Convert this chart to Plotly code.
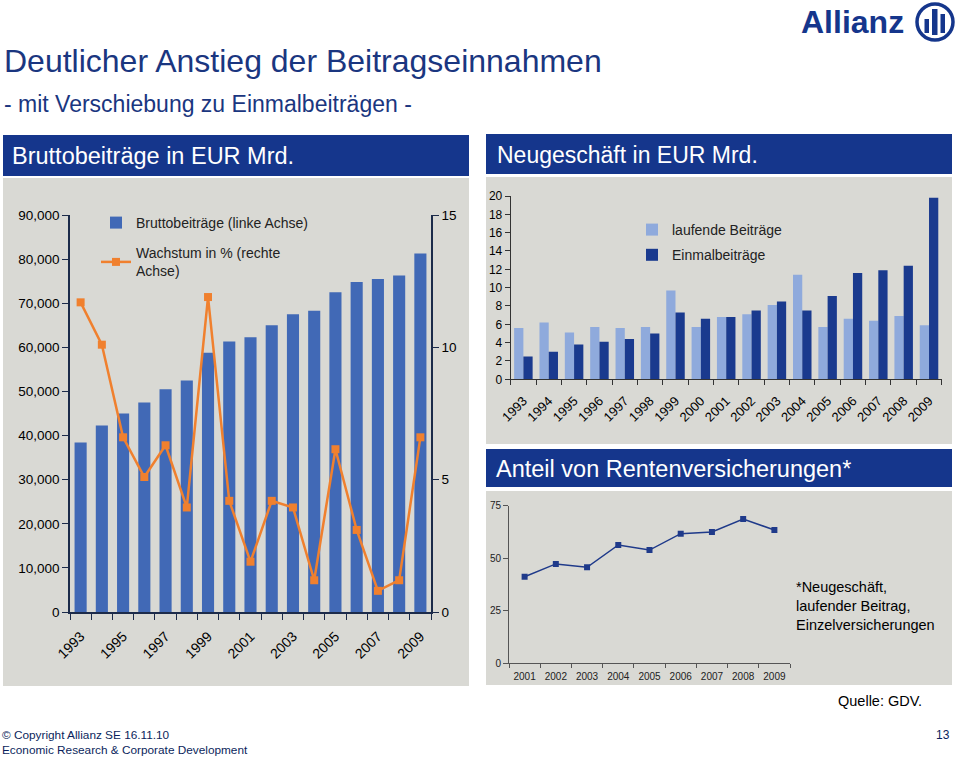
import plotly.graph_objects as go

W, H = 960, 757

# ---------------- data ----------------
years = list(range(1993, 2010))
brutto = [38400, 42300, 45000, 47500, 50500, 52500, 58800, 61300, 62300,
          65000, 67500, 68300, 72500, 74800, 75500, 76300, 81300]
wachstum = [11.7, 10.1, 6.6, 5.1, 6.3, 3.95, 11.9, 4.2, 1.9,
            4.2, 3.95, 1.2, 6.15, 3.1, 0.8, 1.2, 6.6]
laufend = [5.6, 6.2, 5.1, 5.7, 5.6, 5.7, 9.7, 5.7, 6.8,
           7.1, 8.1, 11.4, 5.7, 6.6, 6.4, 6.9, 5.9]
einmal = [2.5, 3.0, 3.8, 4.1, 4.4, 5.0, 7.3, 6.6, 6.8,
          7.5, 8.5, 7.5, 9.1, 11.6, 11.9, 12.4, 19.8]
rv_years = list(range(2001, 2010))
rv_anteil = [41.2, 47.3, 45.7, 56.3, 53.9, 61.7, 62.5, 68.7, 63.4]
left_tick_years = list(range(1993, 2010, 2))

NAVY = "#15368C"
PANEL = "#D9D9D4"
FONT = "Liberation Sans, Arial, sans-serif"


def px(x):
    return x / W


def py(y):
    return 1 - y / H


fig = go.Figure()

fig.add_trace(go.Bar(x=years, y=brutto, xaxis="x", yaxis="y", width=0.57,
                     marker=dict(color="#4169B6", line=dict(width=0)),
                     name="Bruttobeiträge (linke Achse)", legend="legend",
                     legendgroup="a"))
fig.add_trace(go.Scatter(x=years, y=wachstum, xaxis="x", yaxis="y2",
                         mode="lines+markers",
                         line=dict(color="#F0802E", width=2.5),
                         marker=dict(symbol="square", size=8, color="#F0802E"),
                         name="Wachstum in % (rechte<br>Achse)", legend="legend",
                         legendgroup="b"))
fig.add_trace(go.Bar(x=years, y=laufend, xaxis="x2", yaxis="y3", width=0.365,
                     offset=-0.365, marker=dict(color="#8FAADC", line=dict(width=0)),
                     name="laufende Beiträge", legend="legend2", legendgroup="c"))
fig.add_trace(go.Bar(x=years, y=einmal, xaxis="x2", yaxis="y3", width=0.365,
                     offset=0, marker=dict(color="#1A3A8E", line=dict(width=0)),
                     name="Einmalbeiträge", legend="legend2", legendgroup="d"))
fig.add_trace(go.Scatter(x=rv_years, y=rv_anteil, xaxis="x3", yaxis="y4",
                         mode="lines+markers",
                         line=dict(color="#1F3A8A", width=1.5),
                         marker=dict(symbol="square", size=6, color="#1F3A8A"),
                         showlegend=False))

shapes = []


def rect(x0, y0, x1, y1, color):
    shapes.append(dict(type="rect", xref="paper", yref="paper",
                       x0=px(x0), x1=px(x1), y0=py(y1), y1=py(y0),
                       fillcolor=color, line=dict(width=0), layer="below"))


rect(3, 135, 469, 176, NAVY)
rect(3, 178, 469, 686, PANEL)
rect(486, 134, 952, 174, NAVY)
rect(486, 177, 952, 444, PANEL)
rect(486, 449, 952, 487, NAVY)
rect(486, 491, 952, 685, PANEL)

# logo
shapes.append(dict(type="circle", xref="paper", yref="paper",
                   x0=px(917), x1=px(953), y0=py(40), y1=py(4),
                   line=dict(color=NAVY, width=3.5), fillcolor="white"))
for (a, b, c, d) in [(924.5, 19, 929, 33), (932, 9, 937.5, 35), (940.5, 14, 945, 33)]:
    shapes.append(dict(type="rect", xref="paper", yref="paper",
                       x0=px(a), x1=px(c), y0=py(d), y1=py(b),
                       fillcolor=NAVY, line=dict(width=0)))

annotations = []


def ann(text, x, y, size, color="black", xanchor="left"):
    annotations.append(dict(text=text, x=px(x), y=py(y), xref="paper", yref="paper",
                            xanchor=xanchor, yanchor="middle", showarrow=False,
                            align="left", borderpad=0,
                            font=dict(size=size, color=color, family=FONT)))


ann("Deutlicher Anstieg der Beitragseinnahmen", 3, 61, 32, "#1A3680")
ann("- mit Verschiebung zu Einmalbeiträgen -", 3, 104, 23, "#1A3680")
ann("Bruttobeiträge in EUR Mrd.", 11, 156, 23.5, "white")
ann("Neugeschäft in EUR Mrd.", 496, 155, 23, "white")
ann("Anteil von Rentenversicherungen*", 495, 469, 23.5, "white")
ann("*Neugeschäft,<br>laufender Beitrag,<br>Einzelversicherungen", 795, 606, 14.5, "black")
ann("Quelle: GDV.", 837, 701, 14.5, "black")
ann("© Copyright Allianz SE 16.11.10<br>Economic Research & Corporate Development",
    1, 742, 11.8, "#0B1F5C")
ann("13", 951, 735, 12, "#0B1F5C", xanchor="right")
ann("<b>Allianz</b>", 852, 22, 32, NAVY, xanchor="center")

axcol = "#1C2B4A"
fig.update_layout(
    template="none",
    width=W, height=H, margin=dict(l=0, r=0, t=0, b=0, pad=0), autosize=False,
    paper_bgcolor="white", plot_bgcolor="rgba(0,0,0,0)",
    font=dict(family=FONT, color="black"),
    barmode="overlay", shapes=shapes, annotations=annotations,
    xaxis=dict(domain=[px(70), px(431)], anchor="y", range=[1992.5, 2009.5],
               tickvals=left_tick_years, ticktext=[str(v) for v in left_tick_years],
               tickangle=-45, ticks="", showline=True, linecolor=axcol, linewidth=1.5,
               showgrid=False, zeroline=False, tickfont=dict(size=14),
               automargin=False, ticklabelstandoff=9,
               minor=dict(tickmode="linear", tick0=1992.5, dtick=1, ticks="outside",
                          ticklen=6, tickcolor=axcol, showgrid=False)),
    yaxis=dict(domain=[py(612), py(215)], anchor="x", range=[0, 90000], dtick=10000,
               tickformat=",", ticks="outside", ticklen=6, tickcolor=axcol,
               showline=True, linecolor=axcol, linewidth=1.5, showgrid=False,
               zeroline=False, tickfont=dict(size=13.5), automargin=False),
    yaxis2=dict(overlaying="y", side="right", anchor="x", range=[0, 15], dtick=5,
                ticks="outside", ticklen=6, tickcolor=axcol, showline=True,
                linecolor=axcol, linewidth=1.5, showgrid=False, zeroline=False,
                tickfont=dict(size=13.5), automargin=False),
    xaxis2=dict(domain=[px(510.7), px(941.7)], anchor="y3", range=[1992.5, 2009.5],
                tickvals=years, ticktext=[str(v) for v in years], tickangle=-45,
                ticks="", showline=True, linecolor="#333", linewidth=1,
                showgrid=False, zeroline=False, tickfont=dict(size=13),
                automargin=False, ticklabelstandoff=8,
                minor=dict(tickmode="linear", tick0=1992.5, dtick=1, ticks="outside",
                           ticklen=5, tickcolor="#333", showgrid=False)),
    yaxis3=dict(domain=[py(379.3), py(196)], anchor="x2", range=[0, 20], dtick=2,
                ticks="outside", ticklen=5, tickcolor="#333", showline=True,
                linecolor="#333", linewidth=1, showgrid=False, zeroline=False,
                tickfont=dict(size=12), automargin=False),
    xaxis3=dict(domain=[px(509), px(790)], anchor="y4", range=[2000.5, 2009.5],
                tickvals=rv_years, ticktext=[str(v) for v in rv_years], ticks="",
                showline=True, linecolor="#555", linewidth=1, showgrid=False,
                zeroline=False, tickfont=dict(size=10, color="#222"),
                automargin=False, ticklabelstandoff=4,
                minor=dict(tickmode="linear", tick0=2000.5, dtick=1, ticks="outside",
                           ticklen=4, tickcolor="#555", showgrid=False)),
    yaxis4=dict(domain=[py(663.3), py(505.7)], anchor="x3", range=[0, 75], dtick=25,
                ticks="outside", ticklen=5, tickcolor="#555", showline=True,
                linecolor="#555", linewidth=1, showgrid=False, zeroline=False,
                tickfont=dict(size=10, color="#222"), automargin=False),
    legend=dict(x=px(96), y=py(207), xanchor="left", yanchor="top",
                bgcolor="rgba(0,0,0,0)", font=dict(size=14, color="#222"),
                traceorder="grouped", tracegroupgap=9),
    legend2=dict(x=px(632), y=py(214), xanchor="left", yanchor="top",
                 bgcolor="rgba(0,0,0,0)", font=dict(size=14, color="#222"),
                 traceorder="grouped", tracegroupgap=4),
)

fig.write_html("out.html")
